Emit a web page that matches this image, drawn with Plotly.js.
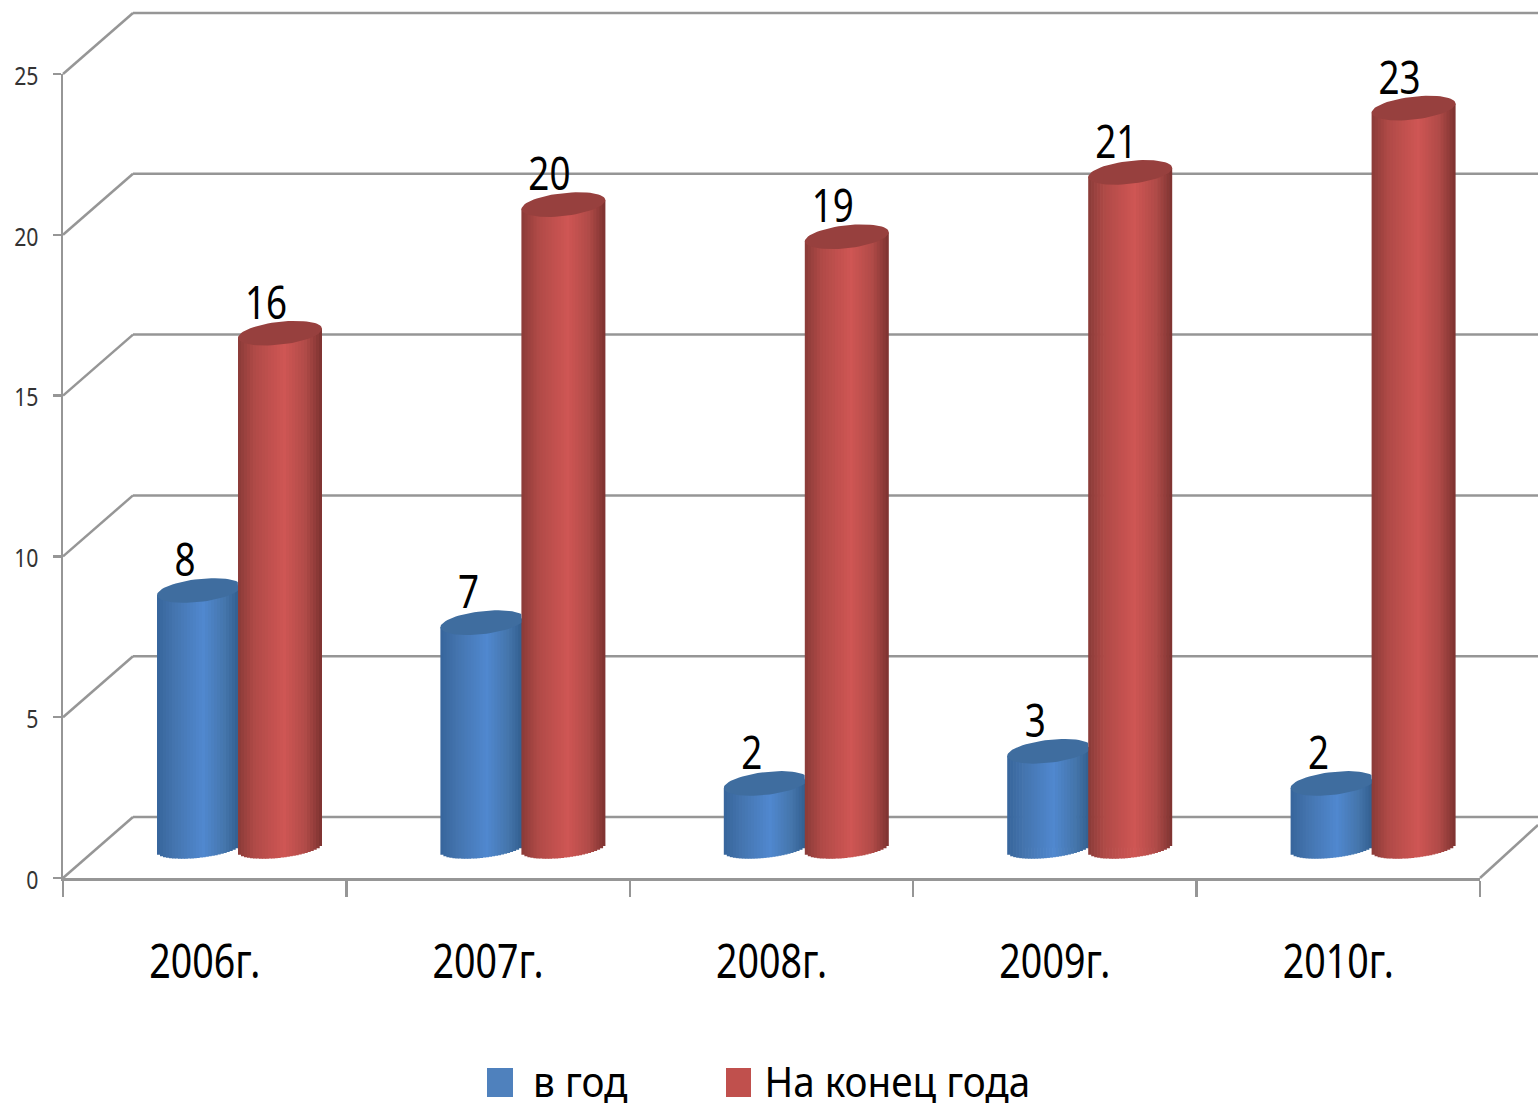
<!DOCTYPE html>
<html><head><meta charset="utf-8">
<script src="https://cdn.plot.ly/plotly-3.0.1.min.js"></script>
<style>html,body{margin:0;padding:0;background:#fff}#c{width:1538px;height:1108px}</style>
</head><body><div id="c"></div>
<script>
var categories = ["2006г.","2007г.","2008г.","2009г.","2010г."];
var perYear = [8,7,2,3,2];
var yearEnd = [16,20,19,21,23];
var seriesNames = ["в год","На конец года"];
var yTicks = [0,5,10,15,20,25];

var FONT = '"Noto Sans","Open Sans",sans-serif';
var W=1538,H=1108,L=63,R=1480,T=74,B=878;
var pxX=(R-L)/5, pxY=(B-T)/25;
var BASE=0.94, RY=11.5/pxY, RYB=10/pxY, TILT=4.5/pxY, DEPTHX=70/(R-L), DEPTHY=61/(B-T);
var blueStops=[[0,'#37659b'],[.2,'#4474ae'],[.55,'#5088cf'],[.8,'#4576ad'],[1,'#2f5a8a']];
var redStops=[[0,'#8a3b38'],[.2,'#b04a47'],[.55,'#cf5654'],[.8,'#b14b48'],[1,'#7c3230']];
function hex(c){return [1,3,5].map(function(i){return parseInt(c.substr(i,2),16)})}
function shade(st,t){for(var i=1;i<st.length;i++){if(t<=st[i][0]){var a=st[i-1],b=st[i],f=(t-a[0])/(b[0]-a[0]),p=hex(a[1]),q=hex(b[1]);
 return 'rgb('+p.map(function(v,k){return Math.round(v+(q[k]-v)*f)}).join(',')+')'}}return st[st.length-1][1]}

var traces=[];
var N=28;
var geo=[{left:(157-63)/pxX,d:84/pxX,stops:blueStops,cap:'#3f6d9f',main:'#4f81bd',vals:perYear,name:seriesNames[0],clip:(238-63)/pxX},
         {left:(238-63)/pxX,d:84/pxX,stops:redStops,cap:'#97403e',main:'#c0504d',vals:yearEnd,name:seriesNames[1],clip:null}];
geo.forEach(function(g){
  var mainW=g.d*0.6;
  traces.push({type:'bar',name:g.name,x:categories,y:g.vals,base:g.vals.map(function(){return BASE}),
    width:mainW,offset:g.left-0.5+(g.d-mainW)/2,marker:{color:g.main,line:{width:0}},hoverinfo:'skip',showlegend:false});
  for(var s=0;s<N;s++){
    var u=(s+.5)/N,t=2*u-1,hump=Math.sqrt(1-t*t);
    var w=g.d/N;
    traces.push({type:'bar',x:categories,
      y:g.vals.map(function(v){return v+RYB*hump}),
      base:g.vals.map(function(){return BASE-RYB*hump+TILT*t}),
      width:w+(s<N-1?0.7/pxX:0),offset:g.left-0.5+s*w,
      marker:{color:shade(g.stops,u),line:{width:0}},hoverinfo:'skip',showlegend:false});
  }
});
geo.forEach(function(g){
  var xs=[],ys=[];
  g.vals.forEach(function(v,i){
    var cx=i-0.5+g.left+g.d/2,rx=g.d/2,lim=g.clip===null?Infinity:i-0.5+g.clip;
    for(var a=0;a<=64;a++){var th=a/64*2*Math.PI,c=Math.cos(th),sn=Math.sin(th);
      xs.push(Math.min(cx+rx*c,lim));ys.push(BASE+v+RY*sn+TILT*c);}
    xs.push(null);ys.push(null);
  });
  traces.push({type:'scatter',mode:'lines',xaxis:'x2',yaxis:'y',x:xs,y:ys,fill:'toself',fillcolor:g.cap,
    line:{width:0,color:g.cap},hoverinfo:'skip',showlegend:false});
});
geo.forEach(function(g){
  traces.push({type:'scatter',mode:'text',xaxis:'x2',yaxis:'y',cliponaxis:false,
    x:g.vals.map(function(v,i){return i-0.5+g.left+g.d/2-14/pxX}),
    y:g.vals.map(function(v){return BASE+v+26/pxY}),
    text:g.vals.map(String),textposition:'middle center',
    textfont:{family:FONT,size:46,color:'#000'},hoverinfo:'skip',showlegend:false});
});

var GRID='#969696',shapes=[];
function seg(x0,y0,x1,y1){shapes.push({type:'line',xref:'paper',yref:'paper',layer:'below',x0:x0,y0:y0,x1:x1,y1:y1,line:{color:GRID,width:2.5}})}
yTicks.forEach(function(v){
  var y=v/25;
  seg(0,y,DEPTHX,y+DEPTHY);
  seg(DEPTHX,y+DEPTHY,(W-L)/(R-L),y+DEPTHY);
});
seg(1,0,(W-L)/(R-L),53/(B-T));
function px(x){return (x-L)/(R-L)}function py(y){return (B-y)/(B-T)}
[[487,513,'#4f81bd'],[726,751,'#c0504d']].forEach(function(s){
  shapes.push({type:'rect',xref:'paper',yref:'paper',x0:px(s[0]),x1:px(s[1]),y0:py(1097),y1:py(1068),fillcolor:s[2],line:{width:0}});
});
var annotations=[[580,seriesNames[0]],[897,seriesNames[1]]].map(function(a){
  return {xref:'paper',yref:'paper',x:px(a[0]),y:py(1080),xanchor:'center',yanchor:'middle',showarrow:false,text:a[1],
    font:{family:FONT,size:42,color:'#000'},borderpad:0};
});

var layout={width:W,height:H,margin:{l:L,r:W-R,t:T,b:H-B,pad:0},paper_bgcolor:'#fff',plot_bgcolor:'rgba(0,0,0,0)',
  barmode:'overlay',showlegend:false,shapes:shapes,annotations:annotations,
  xaxis:{type:'category',categoryorder:'array',categoryarray:categories,range:[-0.5,4.5],tickson:'boundaries',
    ticks:'outside',ticklen:16,tickwidth:2.5,tickcolor:GRID,showline:true,linecolor:GRID,linewidth:2.5,showgrid:false,zeroline:false,
    ticklabelstandoff:41,tickfont:{family:FONT,size:47,color:'#000'},fixedrange:true},
  xaxis2:{overlaying:'x',range:[-0.5,4.5],visible:false,fixedrange:true},
  yaxis:{range:[0,25],tickvals:yTicks,ticktext:yTicks.map(String),ticks:'outside',ticklen:8,tickwidth:2.5,tickcolor:GRID,
    showline:true,linecolor:GRID,linewidth:2.5,showgrid:false,zeroline:false,ticklabelstandoff:9,
    tickfont:{family:FONT,size:25,color:'#333'},fixedrange:true}};
function squeeze(sel,f,dy){
  document.querySelectorAll(sel).forEach(function(el){
    var n=el.getComputedTextLength();
    el.setAttribute('lengthAdjust','spacingAndGlyphs');
    el.setAttribute('textLength',n*f);
    if(dy)el.setAttribute('dy',dy);
  });
}
Plotly.newPlot('c',traces,layout,{displayModeBar:false,staticPlot:true}).then(function(){
  squeeze('.xtick text',0.8);
  squeeze('.ytick text',0.85,2);
  squeeze('.textpoint text',0.8);
  squeeze('.annotation-text',0.92);
});
</script></body></html>
